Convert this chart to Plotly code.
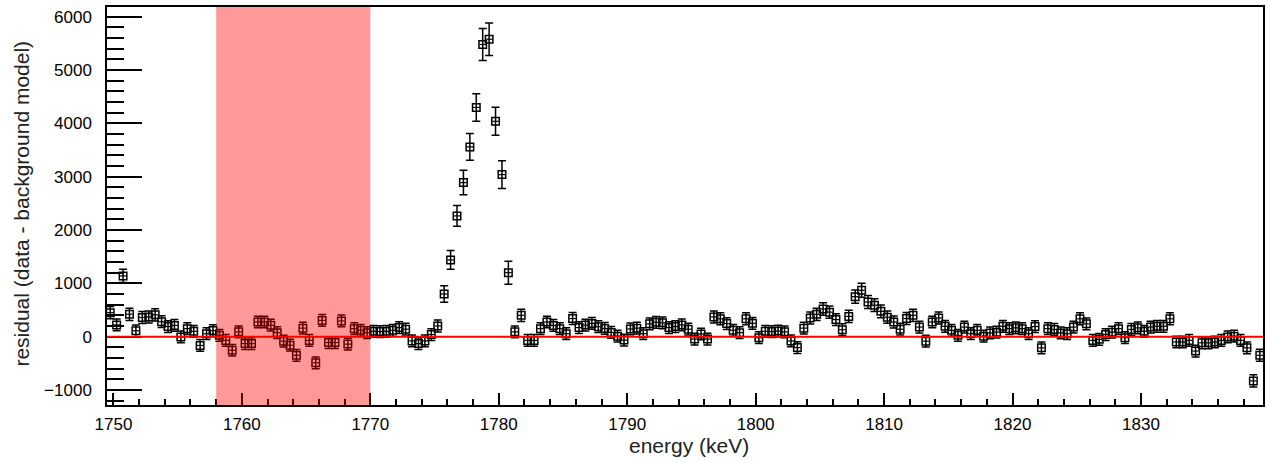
import plotly.graph_objects as go

# ---- data -------------------------------------------------------------
bin_lo = 1749.5          # keV, lower edge of first bin
bin_width = 0.5          # keV
residual = [
    450, 220, 1140, 420, 110, 360, 370, 410, 280, 190,
    210, -5, 150, 100, -165, 55, 115, 25, -70, -255,
    90, -130, -130, 275, 275, 215, 75, -85, -160, -350,
    160, -70, -490, 305, -110, -110, 295, -140, 150, 120,
    75, 100, 95, 100, 120, 170, 140, -80, -130, -80,
    40, 200, 800, 1440, 2265, 2890, 3560, 4300, 5480, 5580,
    4040, 3040, 1200, 90, 400, -70, -70, 150, 275, 210,
    150, 55, 340, 170, 218, 249, 187, 155, 80, 10,
    -65, 145, 160, 55, 240, 270, 260, 170, 190, 220,
    140, -45, 50, -45, 370, 335, 245, 120, 75, 335,
    250, -20, 100, 95, 105, 90, -80, -205, 160, 350,
    420, 520, 460, 320, 130, 380, 750, 870, 650, 590,
    475, 365, 275, 140, 340, 400, 180, -85, 275, 350,
    195, 118, 25, 180, 55, 118, 10, 70, 85, 195,
    150, 165, 150, 55, 190, -210, 150, 135, 70, 55,
    180, 335, 240, -70, -50, 40, 85, 150, -20, 135,
    165, 100, 180, 195, 195, 335, -100, -100, -70, -270,
    -115, -115, -100, -70, -5, 10, -70, -210, -830, -350,
]
residual_err = [
    115, 110, 124, 115, 110, 112, 112, 114, 110, 110,
    110, 110, 110, 110, 110, 110, 110, 110, 110, 110,
    110, 110, 110, 110, 110, 110, 110, 110, 110, 110,
    110, 110, 110, 110, 110, 110, 110, 110, 110, 110,
    110, 110, 110, 110, 110, 110, 110, 110, 110, 110,
    110, 112, 155, 175, 195, 230, 250, 258, 300, 305,
    262, 262, 215, 110, 115, 110, 110, 110, 110, 110,
    110, 110, 112, 110, 110, 110, 110, 110, 110, 110,
    110, 110, 110, 110, 110, 110, 110, 110, 110, 110,
    110, 110, 110, 110, 112, 112, 110, 110, 110, 112,
    110, 110, 110, 110, 110, 110, 110, 110, 110, 112,
    115, 118, 116, 112, 110, 115, 125, 130, 122, 120,
    118, 114, 112, 110, 112, 114, 110, 110, 110, 112,
    110, 110, 110, 110, 110, 110, 110, 110, 110, 110,
    110, 110, 110, 110, 110, 110, 110, 110, 110, 110,
    110, 112, 110, 110, 110, 110, 110, 110, 110, 110,
    110, 110, 110, 110, 110, 112, 110, 110, 110, 110,
    110, 110, 110, 110, 110, 110, 110, 110, 115, 112,
]
energy = [bin_lo + bin_width * (i + 0.5) for i in range(len(residual))]
half_width = [bin_width / 2] * len(residual)

x_range = [1749.5, 1839.5]
y_range = [-1282, 6184]
band_lo, band_hi = 1758, 1770
x_title = "energy (keV)"
y_title = "residual (data - background model)"

FONT = "Liberation Sans, Arial, sans-serif"

fig = go.Figure()
fig.add_trace(go.Scatter(
    x=energy, y=residual, mode="markers",
    marker=dict(symbol="square-open", size=7.5, color="black",
                line=dict(width=1.5, color="black")),
    error_y=dict(type="data", array=residual_err, visible=True,
                 color="black", thickness=1.5, width=4),
    error_x=dict(type="data", array=half_width, visible=True,
                 color="black", thickness=1.2, width=0),
    showlegend=False, hoverinfo="x+y",
))

fig.add_shape(type="line", xref="paper", yref="y", x0=0, x1=1, y0=0, y1=0,
              line=dict(color="red", width=2), layer="above")
fig.add_shape(type="rect", xref="x", yref="paper", x0=band_lo, x1=band_hi,
              y0=0, y1=1, fillcolor="rgba(255,0,0,0.4)", line=dict(width=0),
              layer="above")

fig.update_layout(
    width=1270, height=462,
    margin=dict(l=107, r=6, t=5, b=57),
    paper_bgcolor="white", plot_bgcolor="white",
    font=dict(family=FONT, color="black", size=17),
    showlegend=False,
)
fig.update_xaxes(
    range=x_range, tick0=1750, dtick=10, ticks="inside", ticklen=12,
    tickwidth=1.5, tickcolor="black", showgrid=False, zeroline=False,
    showline=True, linecolor="black", linewidth=1.5, mirror=True,
    tickfont=dict(size=17, family=FONT, color="black"),
    ticklabelstandoff=3,
    minor=dict(dtick=2, ticks="inside", ticklen=6, tickcolor="black",
               tickwidth=1.5, showgrid=False),
)
fig.update_yaxes(
    range=y_range, tick0=0, dtick=1000, ticks="inside", ticklen=35,
    tickwidth=1.5, tickcolor="black", showgrid=False, zeroline=False,
    showline=True, linecolor="black", linewidth=1.5, mirror=True,
    tickfont=dict(size=17, family=FONT, color="black"),
    ticklabelstandoff=10,
    minor=dict(dtick=200, ticks="inside", ticklen=17, tickcolor="black",
               tickwidth=1.5, showgrid=False),
)

fig.add_annotation(text=x_title, xref="paper", yref="paper",
                   x=(690 - 107) / 1157, y=-(446 - 405) / 400,
                   xanchor="center", yanchor="middle", showarrow=False,
                   font=dict(size=21, family=FONT, color="#222"))
fig.add_annotation(text=y_title, xref="paper", yref="paper",
                   x=(21 - 107) / 1157, y=0.5 + (205 - 202.5) / 400,
                   xanchor="center", yanchor="middle", showarrow=False,
                   textangle=-90,
                   font=dict(size=21, family=FONT, color="#222"))

fig.write_html("out.html",
               config={"displayModeBar": False},
               post_script="document.body.style.margin='0';"
                           "document.body.style.overflow='hidden';")
